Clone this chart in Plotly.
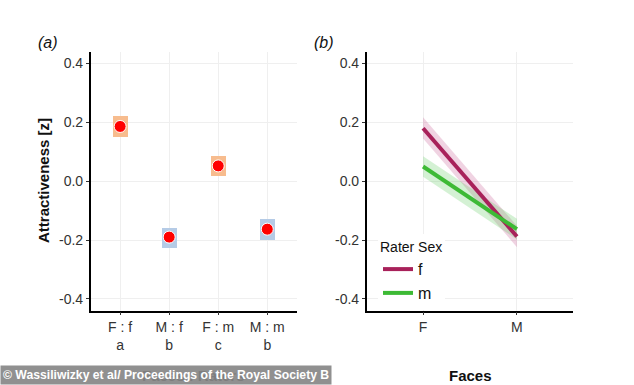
import plotly.graph_objects as go

# Panel (a) data
groups = ["F : f", "M : f", "F : m", "M : m"]
letters = ["a", "b", "c", "b"]
means = [0.186, -0.190, 0.052, -0.163]
ci_low = [0.152, -0.226, 0.018, -0.198]
ci_high = [0.222, -0.157, 0.086, -0.126]
rect_colors = ["#F7BC8E", "#B5CBE6", "#F7BC8E", "#B5CBE6"]

# Panel (b) data
faces = ["F", "M"]
f_mean = [0.180, -0.188]
f_low = [0.145, -0.224]
f_high = [0.217, -0.152]
m_mean = [0.050, -0.163]
m_low = [0.015, -0.198]
m_high = [0.085, -0.128]

yticks = [-0.4, -0.2, 0.0, 0.2, 0.4]
ytext = ["-0.4", "-0.2", "0.0", "0.2", "0.4"]

FONT = "Liberation Sans, Arial, sans-serif"
W, H = 634, 385

fig = go.Figure()

xa = list(range(1, len(groups) + 1))
fig.add_trace(go.Bar(
    x=xa, y=[h - l for h, l in zip(ci_high, ci_low)], base=ci_low,
    width=0.3, marker=dict(color=rect_colors, line=dict(width=0)),
    xaxis="x", yaxis="y", showlegend=False, hoverinfo="skip"))
fig.add_trace(go.Scatter(
    x=xa, y=means, mode="markers",
    marker=dict(color="#FF0000", size=12, line=dict(color="white", width=1)),
    xaxis="x", yaxis="y", showlegend=False))

xb = list(range(1, len(faces) + 1))
def band(low, high, color):
    return go.Scatter(
        x=xb + xb[::-1], y=high + low[::-1], fill="toself", fillcolor=color,
        line=dict(width=0), mode="lines", xaxis="x2", yaxis="y2",
        showlegend=False, hoverinfo="skip")

fig.add_trace(band(f_low, f_high, "rgba(205,110,160,0.30)"))
fig.add_trace(band(m_low, m_high, "rgba(100,205,100,0.28)"))
fig.add_trace(go.Scatter(x=xb, y=f_mean, mode="lines", name="f",
                         line=dict(color="#A8215A", width=4),
                         xaxis="x2", yaxis="y2"))
fig.add_trace(go.Scatter(x=xb, y=m_mean, mode="lines", name="m",
                         line=dict(color="#3DBA35", width=4),
                         xaxis="x2", yaxis="y2"))

ydom = [1 - 310.7 / H, 1 - 51.7 / H]
axis_common = dict(showline=True, linecolor="black", linewidth=1.5,
                   ticks="outside", ticklen=3, tickcolor="#333",
                   showgrid=True, gridcolor="#EFEFEF", gridwidth=1,
                   zeroline=False, tickfont=dict(family=FONT, size=14, color="#333"))

fig.update_layout(
    width=W, height=H, margin=dict(l=0, r=0, t=0, b=0),
    paper_bgcolor="white", plot_bgcolor="white",
    font=dict(family=FONT, color="#333"),
    xaxis=dict(domain=[90.7 / W, 296.7 / W], range=[0.4, 4.6],
               tickvals=xa,
               ticktext=[f"{g}<br>{l}" for g, l in zip(groups, letters)],
               anchor="y", **axis_common),
    yaxis=dict(domain=ydom, range=[-0.44, 0.44], tickvals=yticks, ticktext=ytext,
               anchor="x", **axis_common),
    xaxis2=dict(domain=[366.7 / W, 573.3 / W], range=[0.4, 2.6],
                tickvals=xb, ticktext=faces, anchor="y2", **axis_common),
    yaxis2=dict(domain=ydom, range=[-0.44, 0.44], tickvals=yticks, ticktext=ytext,
                anchor="x2", **axis_common),
    legend=dict(x=378 / W, y=1 - 234 / H, xanchor="left", yanchor="top",
                bgcolor="white", borderwidth=0,
                title=dict(text="Rater Sex", font=dict(family=FONT, size=14, color="#111")),
                font=dict(family=FONT, size=16, color="#111"),
                itemwidth=30, tracegroupgap=2),
    bargap=0,
)

ann = [
    dict(text="<i>(a)</i>", x=36 / W, y=1 - 42 / H, xanchor="left", yanchor="middle",
         font=dict(size=16, color="#111")),
    dict(text="<i>(b)</i>", x=312 / W, y=1 - 42 / H, xanchor="left", yanchor="middle",
         font=dict(size=16, color="#111")),
    dict(text="<b>Attractiveness [z]</b>", x=43 / W, y=1 - 181 / H, textangle=-90,
         xanchor="center", yanchor="middle", font=dict(size=15, color="#111")),
    dict(text="<b>Faces : Raters</b>", x=193.7 / W, y=1 - 375 / H,
         xanchor="center", yanchor="middle", font=dict(size=15, color="#111")),
    dict(text="<b>Faces</b>", x=470 / W, y=1 - 375 / H,
         xanchor="center", yanchor="middle", font=dict(size=15, color="#111")),
    dict(text="<b>© Wassiliwizky et al/ Proceedings of the Royal Society B</b>",
         x=0, y=0, xanchor="left", yanchor="bottom",
         bgcolor="rgba(135,135,135,0.92)", borderpad=2,
         font=dict(size=12.2, color="white")),
]
for a in ann:
    a.update(xref="paper", yref="paper", showarrow=False)
    a["font"]["family"] = FONT
fig.update_layout(annotations=ann)

fig.write_html("out.html")
